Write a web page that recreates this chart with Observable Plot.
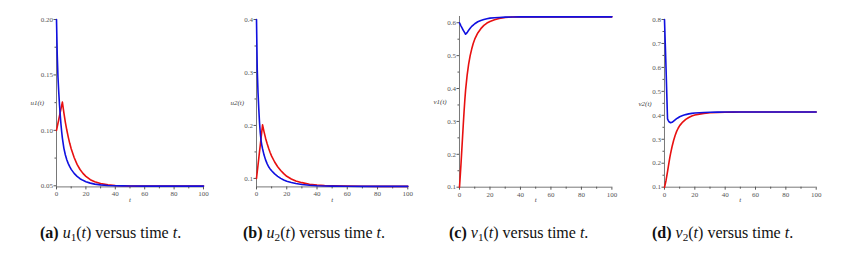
<!DOCTYPE html>
<html>
<head>
<meta charset="utf-8">
<script src="https://cdn.jsdelivr.net/npm/d3@7"></script>
<script src="https://cdn.jsdelivr.net/npm/@observablehq/plot@0.6"></script>
<style>
  html, body { margin: 0; padding: 0; background: #fff; }
  #root { position: relative; width: 841px; height: 255px; overflow: hidden; background: #fff; }
  .panel { position: absolute; }
  .cap { position: absolute; font-family: "Liberation Serif", "DejaVu Serif", serif; font-size: 16px; line-height: 16px; color: #111; white-space: nowrap; }
  .cap b { font-weight: bold; }
  .cap i { font-style: italic; }
  .cap sub { font-size: 70%; vertical-align: -0.25em; line-height: 0; }
</style>
</head>
<body>
<div id="root"></div>
<script>
// time grid shared by all panels
const tGrid = [0,0.5,1,1.5,2,2.5,3,3.5,4,5,6,7,8,9,10,12,14,16,18,20,23,26,30,35,40,45,50,60,70,80,90,100];

// (a) u1(t)
const u1Red  = [0.100,0.1032,0.1064,0.1096,0.1128,0.1160,0.1191,0.1223,0.1255,0.1160,0.1075,0.1003,0.0939,0.0883,0.0834,0.0755,0.0693,0.0647,0.0612,0.0585,0.0555,0.0536,0.0520,0.0509,0.0503,0.0500,0.0498,0.0497,0.0497,0.0497,0.0497,0.0497];
const u1Blue = [0.200,0.168,0.148,0.135,0.124,0.1145,0.106,0.099,0.093,0.084,0.078,0.0735,0.070,0.0672,0.0648,0.0612,0.0585,0.0564,0.0549,0.0537,0.0524,0.0515,0.0508,0.0503,0.0500,0.0499,0.0498,0.0497,0.0497,0.0497,0.0497,0.0497];

// (b) u2(t)
const u2Red  = [0.100,0.1126,0.1252,0.1378,0.1505,0.1631,0.1757,0.1883,0.201,0.188,0.176,0.166,0.157,0.149,0.142,0.131,0.122,0.115,0.109,0.104,0.099,0.095,0.092,0.089,0.0875,0.0865,0.086,0.0855,0.0852,0.085,0.085,0.085];
const u2Blue = [0.400,0.305,0.262,0.232,0.205,0.186,0.172,0.163,0.156,0.144,0.135,0.128,0.122,0.118,0.1145,0.1085,0.104,0.100,0.097,0.0948,0.0922,0.0903,0.0885,0.0871,0.0862,0.0857,0.0854,0.0851,0.085,0.085,0.085,0.085];

// (c) v1(t)
const v1Red  = [0.100,0.135,0.172,0.212,0.252,0.292,0.330,0.365,0.395,0.440,0.474,0.500,0.520,0.537,0.550,0.569,0.582,0.592,0.599,0.604,0.609,0.613,0.616,0.6175,0.618,0.618,0.618,0.618,0.618,0.618,0.618,0.618];
const v1Blue = [0.600,0.595,0.590,0.586,0.581,0.577,0.573,0.569,0.565,0.570,0.577,0.583,0.589,0.593,0.597,0.603,0.607,0.610,0.612,0.614,0.615,0.616,0.617,0.6175,0.618,0.618,0.618,0.618,0.618,0.618,0.618,0.618];

// (d) v2(t)
const v2Red  = [0.100,0.113,0.128,0.146,0.165,0.185,0.205,0.223,0.240,0.270,0.295,0.316,0.333,0.346,0.357,0.372,0.383,0.391,0.397,0.401,0.405,0.408,0.411,0.412,0.413,0.4135,0.414,0.414,0.414,0.414,0.414,0.414];
const v2Blue = [0.800,0.700,0.600,0.490,0.385,0.378,0.373,0.371,0.369,0.371,0.376,0.381,0.386,0.390,0.394,0.399,0.403,0.406,0.408,0.410,0.411,0.412,0.413,0.4135,0.414,0.414,0.414,0.414,0.414,0.414,0.414,0.414];

// tick labels
const xTicks = [0,20,40,60,80,100];
const xMinor = [10,30,50,70,90];
const yTicksA = [0.05,0.10,0.15,0.20];
const yTicksB = [0.1,0.2,0.3,0.4];
const yTicksC = [0.1,0.2,0.3,0.4,0.5,0.6];
const yTicksD = [0.1,0.2,0.3,0.4,0.5,0.6,0.7,0.8];

const yLabels = ["u1(t)", "u2(t)", "v1(t)", "v2(t)"];
const xLabel = "t";
const captionLetters = ["(a)", "(b)", "(c)", "(d)"];
const captionVars = [["u","1"],["u","2"],["v","1"],["v","2"]];

const panels = [
  {red: u1Red, blue: u1Blue, ticks: yTicksA, fmt: ".2f", domain: [0.049, 0.2], left: 56, right: 203, top: 19.3, bottom: 186.7, label: yLabels[0]},
  {red: u2Red, blue: u2Blue, ticks: yTicksB, fmt: ".1f", domain: [0.084, 0.4], left: 255.7, right: 407, top: 19.3, bottom: 186.7, label: yLabels[1]},
  {red: v1Red, blue: v1Blue, ticks: yTicksC, fmt: ".1f", domain: [0.1, 0.619], left: 459.3, right: 611.7, top: 16, bottom: 186.7, label: yLabels[2]},
  {red: v2Red, blue: v2Blue, ticks: yTicksD, fmt: ".1f", domain: [0.1, 0.8], left: 664, right: 815.7, top: 19, bottom: 186.7, label: yLabels[3]}
];
const captionLeft = [40, 243, 449, 652];

const root = document.getElementById("root");
const ML = 50, MR = 10, MT = 10, MB = 25;
const font = "'Liberation Serif', 'DejaVu Serif', serif";
const axisColor = "#555";

panels.forEach((p, i) => {
  const red = tGrid.map((t, k) => ({t, v: p.red[k]}));
  const blue = tGrid.map((t, k) => ({t, v: p.blue[k]}));
  const minorY = p.ticks.slice(0, -1).map((v, k) => (v + p.ticks[k + 1]) / 2);
  const w = ML + (p.right - p.left) + MR;
  const h = MT + (p.bottom - p.top) + MB;
  const chart = Plot.plot({
    width: w, height: h,
    marginLeft: ML, marginRight: MR, marginTop: MT, marginBottom: MB,
    style: {fontFamily: font, fontSize: "7px", background: "transparent", color: "#444"},
    x: {domain: [0, 100], axis: null},
    y: {domain: p.domain, axis: null},
    marks: [
      Plot.axisX({ticks: xTicks, label: null, tickSize: 3, tickPadding: 1.5, tickFormat: d3.format("d"), stroke: axisColor, fill: "#555", fontSize: 7}),
      Plot.axisX({ticks: xMinor, label: null, tickSize: 2, text: null, stroke: axisColor}),
      Plot.axisY({ticks: p.ticks, label: null, tickSize: 2.5, tickPadding: 1, tickFormat: d3.format(p.fmt), stroke: axisColor, fill: "#555", fontSize: 7}),
      Plot.axisY({ticks: minorY, label: null, tickSize: 1.5, text: null, stroke: axisColor}),
      Plot.ruleY([p.domain[0]], {stroke: axisColor, strokeWidth: 0.8}),
      Plot.ruleX([0], {stroke: axisColor, strokeWidth: 0.8}),
      Plot.line(red, {x: "t", y: "v", stroke: "#e81010", strokeWidth: 1.6}),
      Plot.line(blue, {x: "t", y: "v", stroke: "#1010e0", strokeWidth: 1.6}),
      Plot.text([p.label], {text: d => d, frameAnchor: "left", dx: -26, fontStyle: "italic", fontSize: 7, fill: "#444"}),
      Plot.text([xLabel], {text: d => d, frameAnchor: "bottom", dy: 15.3, fontStyle: "italic", fontSize: 7, fill: "#444"})
    ]
  });
  const div = document.createElement("div");
  div.className = "panel";
  div.style.left = (p.left - ML) + "px";
  div.style.top = (p.top - MT) + "px";
  div.appendChild(chart);
  root.appendChild(div);

  const cap = document.createElement("div");
  cap.className = "cap";
  cap.style.left = captionLeft[i] + "px";
  cap.style.top = "224.6px";
  const [letter, sub] = captionVars[i];
  cap.innerHTML = `<b>${captionLetters[i]}</b> <i>${letter}</i><sub>${sub}</sub>(<i>t</i>) versus time <i>t</i>.`;
  root.appendChild(cap);
});
</script>
</body>
</html>
